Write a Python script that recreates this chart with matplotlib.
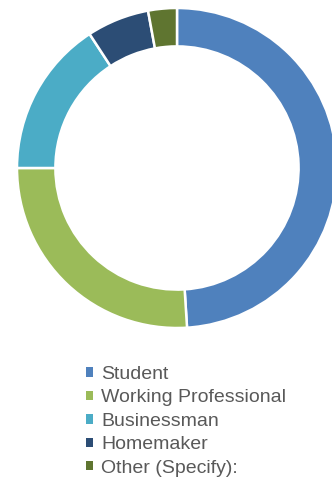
import matplotlib
matplotlib.use("Agg")
import matplotlib.pyplot as plt
from matplotlib.patches import Patch

categories = ["Student", "Working Professional", "Businessman", "Homemaker", "Other (Specify):"]
values = [49.0, 26.0, 15.8, 6.3, 2.9]
colors = ["#4F81BD", "#9BBB59", "#4BACC6", "#2C4D75", "#5F7530"]

W, H = 332, 482
fig = plt.figure(figsize=(W / 100, H / 100), dpi=100)
fig.patch.set_facecolor("white")

cx, cy, r = 177, 168, 160
ax = fig.add_axes([(cx - r) / W, (H - cy - r) / H, 2 * r / W, 2 * r / H])
ax.pie(values, colors=colors, startangle=90, counterclock=False, radius=1.0,
       wedgeprops=dict(width=0.24, edgecolor="white", linewidth=1.8))
ax.set_xlim(-1, 1)
ax.set_ylim(-1, 1)
ax.set_aspect("equal")
ax.axis("off")

handles = [Patch(facecolor=c, edgecolor="none") for c in colors]
leg = fig.legend(handles, categories, loc="upper left",
                 bbox_to_anchor=(86 / W, 1 - 366 / H), frameon=False,
                 prop=dict(family="Liberation Sans", size=14),
                 handlelength=0.36, handleheight=0.36, handletextpad=0.42,
                 labelspacing=0.33, borderpad=0, borderaxespad=0)
for t in leg.get_texts():
    t.set_color("#595959")

fig.savefig("out.png", dpi=100, facecolor="white")
